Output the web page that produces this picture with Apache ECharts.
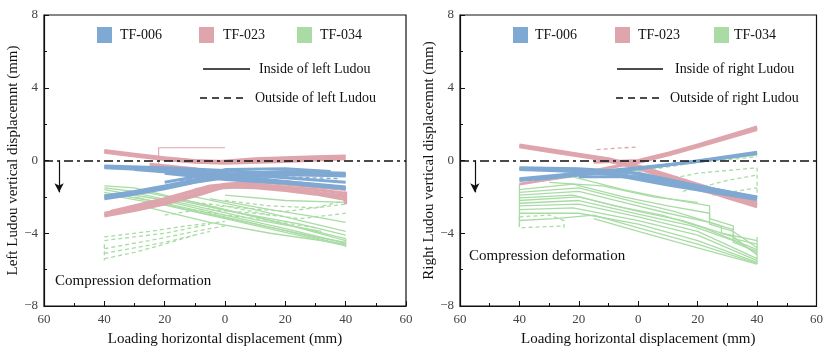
<!DOCTYPE html>
<html>
<head>
<meta charset="utf-8">
<script src="https://cdn.jsdelivr.net/npm/echarts@6/dist/echarts.min.js"></script>
<style>
  html, body { margin: 0; padding: 0; background: #fff; }
  #chart { width: 826px; height: 352px; }
</style>
</head>
<body>
<div id="chart"></div>
<script>
// specimens and the two measuring positions
const categories = ["TF-006", "TF-023", "TF-034"];
const sides = ["left", "right"];

// each list = hysteresis curves, [horizontal mm, vertical mm]
// ---- left Ludou ----
const left006In = [
  [[-40, -0.3], [-20, -0.4], [0, -0.55], [20, -0.75], [40, -0.85]],
  [[-40, -0.35], [-20, -0.5], [0, -0.7], [20, -0.95], [40, -1.2]],
  [[-40, -0.4], [-20, -0.55], [0, -0.8], [20, -1.15], [40, -1.5]],
  [[-30, -0.5], [-10, -0.75], [10, -1.05], [30, -1.3], [40, -1.45]],
  [[-20, -0.7], [0, -1.05], [20, -1.25], [40, -1.55]],
  [[-40, -2.1], [-30, -1.85], [-20, -1.55], [-10, -1.2], [0, -0.95], [20, -0.8], [40, -0.8]],
  [[-40, -2.0], [-20, -1.5], [0, -0.85], [20, -0.7], [40, -0.75]],
  [[-40, -1.95], [-30, -1.7], [-20, -1.4], [-10, -1.05], [0, -0.75], [20, -0.6], [40, -0.7]],
  [[-20, -1.2], [-10, -0.9], [0, -0.5], [20, -0.45], [35, -0.6]]
];
const left006Out = [
  [[-15, -1.1], [0, -0.9], [20, -0.9], [38, -1.0]]
];
const left006Thin = [];
const left023In = [
  [[-40, 0.55], [-30, 0.35], [-20, 0.15], [-10, 0.0], [0, -0.05], [10, 0.0], [20, 0.05], [30, 0.1], [40, 0.2]],
  [[-40, 0.5], [-20, 0.1], [-5, -0.1], [10, 0.1], [30, 0.2], [40, 0.25]],
  [[-40, 0.45], [-30, 0.25], [-20, 0.05], [-10, -0.1], [0, -0.15], [20, -0.05], [40, 0.1]],
  [[-40, -3.05], [-30, -2.75], [-20, -2.4], [-10, -1.95], [0, -1.45], [10, -1.5], [20, -1.65], [30, -1.85], [40, -2.15]],
  [[-40, -3.0], [-20, -2.35], [0, -1.4], [20, -1.55], [40, -2.0]],
  [[-40, -2.9], [-30, -2.6], [-20, -2.25], [-10, -1.8], [0, -1.3], [10, -1.3], [20, -1.45], [30, -1.6], [40, -1.8]],
  [[-38, -2.8], [-20, -2.1], [-5, -1.4], [10, -1.15], [40, -1.6]],
  [[-10, -1.6], [10, -1.4], [30, -1.75], [40, -1.95]],
  [[-25, -0.2], [-10, -0.45], [0, -0.9], [10, -1.2]],
  [[40, -1.7], [40, -2.4]]
];
const left023Out = [];
const left023Thin = [
  [[-22, -0.7], [-22, 0.7], [0, 0.7]]
];
const left034In = [
  [[-40, -1.4], [-30, -1.5], [-20, -1.9], [0, -2.7], [20, -3.5], [40, -4.4]],
  [[-40, -1.5], [-25, -1.8], [-10, -2.3], [10, -3.1], [30, -3.9], [40, -4.3]],
  [[-40, -1.6], [-20, -2.2], [0, -3.0], [20, -3.75], [40, -4.55]],
  [[-40, -1.75], [-20, -2.35], [0, -3.1], [20, -3.85], [40, -4.65]],
  [[-40, -1.85], [-20, -2.45], [0, -3.2], [20, -3.95], [40, -4.7]],
  [[-32, -1.7], [-10, -2.5], [10, -3.25], [32, -3.9]],
  [[-30, -2.0], [-10, -2.8], [10, -3.5], [30, -4.2], [40, -4.5]],
  [[-25, -2.6], [-5, -3.4], [15, -4.0], [40, -4.6]],
  [[-15, -2.2], [5, -2.9], [25, -3.5], [40, -4.1]],
  [[-10, -2.0], [10, -2.7], [25, -3.3], [40, -3.9]],
  [[-5, -2.1], [15, -2.7], [30, -3.1], [40, -3.4]],
  [[0, -1.9], [20, -2.2], [40, -2.3]],
  [[40, -4.3], [40, -4.75]]
];
const left034Out = [
  [[-40, -4.2], [-25, -3.9], [-13, -3.6], [0, -3.35]],
  [[-40, -4.4], [-20, -4.0], [-5, -3.5]],
  [[-40, -4.85], [-25, -4.4], [-10, -3.9], [0, -3.6]],
  [[-40, -5.1], [-20, -4.5], [-5, -3.9]],
  [[-40, -5.4], [-30, -5.05], [-20, -4.6], [-10, -4.1]],
  [[-40, -4.6], [-40, -5.5]],
  [[-10, -2.3], [5, -2.6], [20, -2.8], [35, -2.5], [40, -2.4]],
  [[0, -2.2], [15, -2.5], [30, -2.6], [40, -2.2]],
  [[-5, -2.7], [10, -2.9], [25, -3.2], [40, -2.9]],
  [[-15, -2.6], [0, -3.0], [15, -3.3], [30, -3.7]],
  [[-20, -3.0], [0, -2.5], [15, -3.0]]
];
const left034Thin = [];

// ---- right Ludou ----
const right006In = [
  [[-40, -0.4], [-20, -0.45], [-5, -0.6], [10, -1.05], [25, -1.55], [40, -2.0]],
  [[-40, -0.45], [-20, -0.5], [0, -0.7], [20, -1.4], [40, -2.05]],
  [[-40, -0.5], [-20, -0.6], [-5, -0.8], [10, -1.2], [25, -1.7], [40, -2.1]],
  [[-30, -0.5], [-10, -0.75], [10, -1.35], [40, -2.15]],
  [[-20, -0.9], [0, -0.9], [20, -1.5]],
  [[-40, -1.1], [-20, -0.8], [-5, -0.55], [10, -0.25], [25, 0.1], [40, 0.45]],
  [[-35, -1.05], [-15, -0.7], [5, -0.35], [25, 0.05], [40, 0.4]],
  [[-40, -1.0], [-20, -0.7], [0, -0.4], [20, -0.05], [40, 0.4]]
];
const right006Out = [];
const right006Thin = [];
const right023In = [
  [[-40, 0.85], [-30, 0.6], [-20, 0.35], [-10, 0.1], [0, -0.3], [10, -0.8], [20, -1.3], [30, -1.8], [40, -2.3]],
  [[-40, 0.8], [-20, 0.3], [0, -0.38], [20, -1.4], [40, -2.45]],
  [[-40, 0.75], [-30, 0.5], [-20, 0.25], [-10, 0.0], [0, -0.45], [10, -1.0], [20, -1.5], [30, -2.05], [40, -2.55]],
  [[0, -0.8], [20, -1.6], [40, -2.4]],
  [[-15, -0.1], [0, 0.0], [10, 0.4], [20, 0.85], [30, 1.35], [40, 1.85]],
  [[0, -0.1], [20, 0.8], [40, 1.8]],
  [[-40, -1.3], [-25, -0.9], [-10, -0.4], [0, -0.1], [10, 0.3], [20, 0.75], [40, 1.7]]
];
const right023Out = [
  [[-14, 0.6], [0, 0.75]]
];
const right023Thin = [];
const right034In = [
  [[-40, -1.3], [-22, -0.9], [-5, -1.6], [10, -2.1], [24, -2.5], [24, -3.2], [32, -3.6], [32, -4.3], [40, -4.6]],
  [[-40, -1.6], [-22, -1.3], [-5, -2.0], [10, -2.5], [24, -2.9], [24, -3.5], [32, -3.9], [40, -4.8]],
  [[-40, -1.75], [-20, -1.5], [-3, -2.2], [12, -2.8], [28, -3.6], [28, -4.0], [40, -4.4]],
  [[-40, -1.9], [-20, -1.7], [-5, -2.3], [10, -2.9], [24, -3.4], [32, -3.8], [32, -4.5], [40, -5.0]],
  [[-40, -2.05], [-22, -1.9], [-8, -2.5], [8, -3.0], [22, -3.7], [40, -4.9]],
  [[-40, -2.2], [-20, -2.0], [0, -2.8], [15, -3.3], [32, -4.2], [40, -5.2]],
  [[-40, -2.35], [-20, -2.2], [0, -2.95], [18, -3.6], [32, -4.4], [40, -5.1]],
  [[-40, -2.5], [-20, -2.4], [0, -3.1], [20, -3.9], [40, -5.4]],
  [[-40, -2.7], [-22, -2.6], [0, -3.3], [20, -4.1], [40, -5.5]],
  [[-40, -2.9], [-20, -2.9], [0, -3.5], [20, -4.4], [40, -5.6]],
  [[-40, -3.3], [-28, -3.2], [-15, -3.0], [0, -3.7], [20, -4.6], [40, -5.65]],
  [[-15, -3.2], [0, -3.9], [20, -4.8], [40, -5.7]],
  [[-40, -1.3], [-40, -3.6]],
  [[40, -4.2], [40, -5.7]],
  [[-30, -1.2], [-12, -1.4], [5, -2.0], [20, -2.3]],
  [[-10, -0.8], [10, -0.3], [40, 0.3]]
];
const right034Out = [
  [[-40, -3.05], [-40, -3.7], [-25, -3.6]],
  [[-40, -3.1], [-30, -3.0], [-25, -3.3], [-25, -3.7]],
  [[0, -0.6], [20, -0.1], [40, 0.2]],
  [[5, -1.2], [20, -0.7], [40, -0.4]],
  [[15, -1.7], [30, -1.1], [40, -0.8]],
  [[25, -1.9], [40, -1.5]],
  [[40, -0.4], [40, -2.0]]
];
const right034Thin = [];

// annotation: compression arrow, starts on the zero line
const arrowX = -55;
const arrowEndY = -1.75;

const FONT = "Liberation Serif";
const colors = { "TF-006": "#7fa9d2", "TF-023": "#dea5ad", "TF-034": "#a9dca5" };
const widths = { "TF-006": 3, "TF-023": 3, "TF-034": 1.3 };

const panelData = [
  [["TF-034", left034In, left034Out, left034Thin], ["TF-023", left023In, left023Out, left023Thin], ["TF-006", left006In, left006Out, left006Thin]],
  [["TF-034", right034In, right034Out, right034Thin], ["TF-023", right023In, right023Out, right023Thin], ["TF-006", right006In, right006Out, right006Thin]]
];

const grids = [
  { left: 44, top: 15, width: 362, height: 291 },
  { left: 460, top: 15, width: 361, height: 291 }
];

const series = [];
panelData.forEach((groups, p) => {
  groups.forEach(([name, inside, outside, thin]) => {
    [[inside, "solid", widths[name]], [outside, [4, 3], 1.3], [thin, "solid", 1.1]].forEach(([lines, type, w]) => {
      lines.forEach((pts) => {
        series.push({
          type: "line",
          name: name,
          xAxisIndex: p,
          yAxisIndex: p,
          data: pts,
          showSymbol: false,
          silent: true,
          animation: false,
          lineStyle: { color: colors[name], width: w, type: type }
        });
      });
    });
  });
  // zero line and compression arrow
  series.push({
    type: "line",
    xAxisIndex: p,
    yAxisIndex: p,
    data: [],
    silent: true,
    animation: false,
    z: 5,
    markLine: {
      silent: true,
      animation: false,
      symbol: ["none", "none"],
      label: { show: false },
      data: [
        { yAxis: 0, lineStyle: { color: "#111", width: 1.5, type: [9, 4, 3, 4] } },
        [
          { coord: [arrowX, 0], symbol: "none" },
          { coord: [arrowX, arrowEndY], symbol: "arrow", symbolSize: [7, 9] }
        ]
      ],
      lineStyle: { color: "#111", width: 1.2, type: "solid" }
    }
  });
});

function axisBase(p) {
  return {
    type: "value",
    gridIndex: p,
    axisLine: { show: true, onZero: false, lineStyle: { color: "#111", width: 1.2 } },
    axisTick: { show: true, inside: true, length: 5, lineStyle: { color: "#111" } },
    minorTick: { show: true, splitNumber: 2, length: 3, lineStyle: { color: "#111" } },
    splitLine: { show: false },
    minorSplitLine: { show: false },
    nameLocation: "middle",
    nameTextStyle: { fontFamily: FONT, fontSize: 15, color: "#111" }
  };
}

const xAxis = sides.map((s, p) => Object.assign(axisBase(p), {
  min: -60, max: 60, interval: 20,
  name: "Loading horizontal displacement (mm)",
  nameGap: 26,
  axisLabel: { fontFamily: FONT, fontSize: 13, color: "#444", margin: 7, formatter: (v) => String(Math.abs(v)) }
}));
const yAxis = sides.map((s, p) => Object.assign(axisBase(p), {
  min: -8, max: 8, interval: 4,
  name: (s === "left" ? "Left" : "Right") + " Ludou vertical displacemnt (mm)",
  nameGap: 18,
  axisLabel: { fontFamily: FONT, fontSize: 13, color: "#444", margin: 6, formatter: (v) => (v < 0 ? "\u2212" + Math.abs(v) : String(v)) }
}));

// legend drawn by hand: colour squares, then line-style keys
const legendGraphic = [];
const squareX = [[97, 199, 297], [513, 615, 714]];
const squareTextX = [[120, 223, 320], [535, 638, 734]];
const lineKey = [
  { x1: [203, 617], x2: [250, 663], tx: [259, 675], y: 69, dash: null, label: "Inside of SIDE Ludou" },
  { x1: [200, 616], x2: [248, 663], tx: [255, 670], y: 98, dash: [7, 5], label: "Outside of SIDE Ludou" }
];
const compressionPos = [[55, 281], [469, 256]];
sides.forEach((s, p) => {
  categories.forEach((c, i) => {
    legendGraphic.push({ type: "rect", shape: { x: squareX[p][i], y: 27, width: 15, height: 16 }, style: { fill: colors[c] } });
    legendGraphic.push({ type: "text", x: squareTextX[p][i], y: 35, style: { text: c, fontFamily: FONT, fontSize: 14, fill: "#111", verticalAlign: "middle" } });
  });
  lineKey.forEach((k) => {
    legendGraphic.push({ type: "line", shape: { x1: k.x1[p], y1: k.y, x2: k.x2[p], y2: k.y }, style: { stroke: "#111", lineWidth: 1.3, lineDash: k.dash } });
    legendGraphic.push({ type: "text", x: k.tx[p], y: k.y, style: { text: k.label.replace("SIDE", s), fontFamily: FONT, fontSize: 14, fill: "#111", verticalAlign: "middle" } });
  });
  legendGraphic.push({ type: "text", x: compressionPos[p][0], y: compressionPos[p][1], style: { text: "Compression deformation", fontFamily: FONT, fontSize: 15, fill: "#111", verticalAlign: "middle" } });
});

const chart = echarts.init(document.getElementById("chart"), null, { renderer: "canvas" });
chart.setOption({
  animation: false,
  backgroundColor: "#fff",
  grid: grids.map((g) => Object.assign({ show: true, borderColor: "#111", borderWidth: 1.2, backgroundColor: "transparent" }, g)),
  xAxis: xAxis,
  yAxis: yAxis,
  series: series,
  graphic: legendGraphic
});
</script>
</body>
</html>
